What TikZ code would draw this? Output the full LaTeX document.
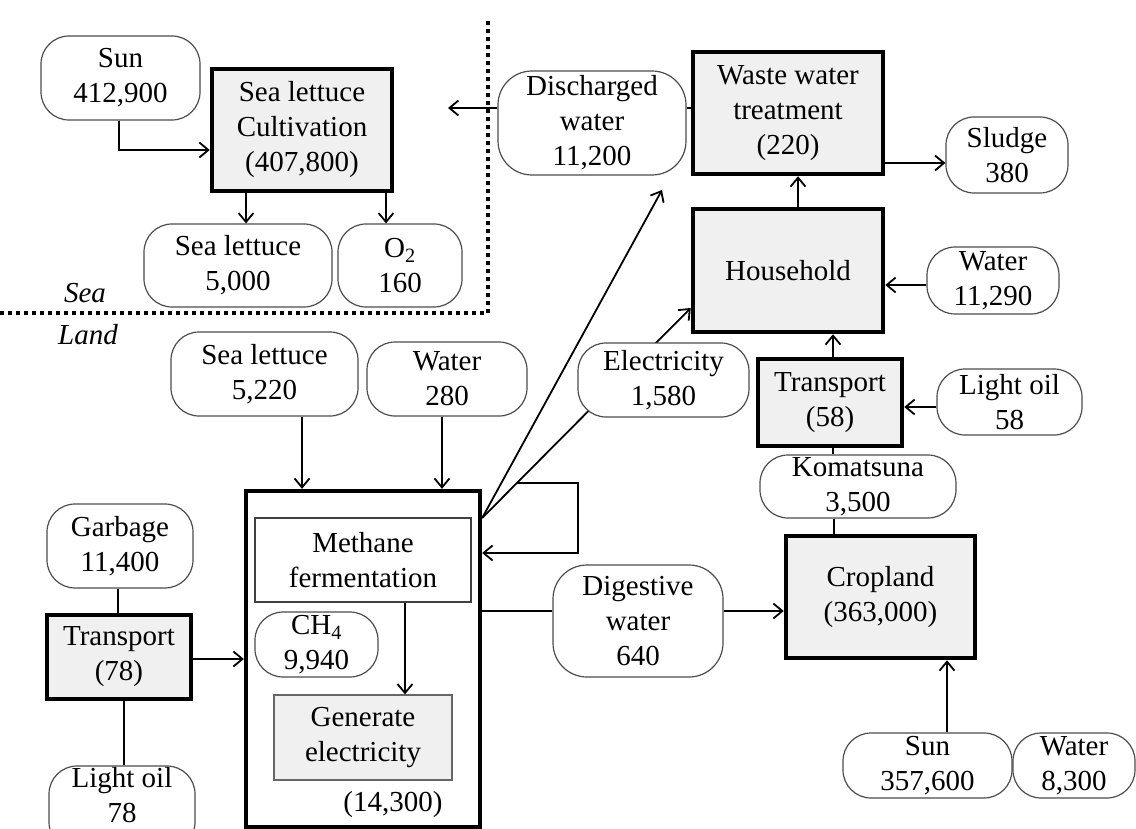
\documentclass[tikz,border=0pt]{standalone}
\usepackage{fontspec}
\setmainfont{Liberation Serif}
\usetikzlibrary{arrows.meta,calc}
\definecolor{procfill}{HTML}{F0F0F0}
\newcommand\diagfont{\fontsize{29}{35}\selectfont}
\tikzset{
  flow/.style={draw=black!70, line width=1.2pt, rounded corners=28pt, fill=white,
               align=center, inner sep=0pt, font=\diagfont},
  proc/.style={draw=black, line width=4.5pt, fill=procfill, align=center,
               inner sep=0pt, font=\diagfont},
  unit/.style={draw=black!75, line width=1.4pt, align=center, inner sep=0pt, font=\diagfont},
  wh/.style 2 args={minimum width=#1pt, minimum height=#2pt},
  conn/.style={line width=1.8pt},
  arr/.style={conn, -{Straight Barb[length=9pt,width=15pt,line width=1.8pt]}},
  zone/.style={line width=3.5pt, dash pattern=on 3.5pt off 4.5pt},
  tag/.style={font=\diagfont\itshape, inner sep=0pt}
}
\begin{document}
\begin{tikzpicture}[x=1pt, y=-1pt]
\useasboundingbox (0,0) rectangle (1136,829);
\clip (0,0) rectangle (1136,829);

% ---- sea / land boundary
\draw[zone] (0,313) -- (488,313) -- (488,17);
\node[tag] (sea) at (85,293) {Sea};
\node[tag] (land) at (88,335) {Land};

% ---- sea side
\node[flow, wh={159}{84}] (sunA) at (120.5,78) {Sun\\412,900};
\node[proc, wh={180}{122}] (cult) at (302,130) {Sea lettuce\\Cultivation\\(407,800)};
\node[flow, wh={188}{83}] (slA) at (238,265.5) {Sea lettuce\\5,000};
\node[flow, wh={124}{83}] (otwo) at (400,265.5) {O\textsubscript{2}\\160};

\draw[arr] (sunA.south -| 119,0) |- (cult.west |- 0,150);
\draw[arr] (cult.south -| 246,0) -- (slA.north -| 246,0);
\draw[arr] (cult.south -| 386,0) -- (otwo.north -| 386,0);

% ---- waste water chain
\node[flow, wh={188}{104}, rounded corners=34pt] (dis) at (592,123) {Discharged\\water\\11,200};
\node[proc, wh={190}{122}] (www) at (788,113) {Waste water\\treatment\\(220)};
\node[flow, wh={122}{76}] (sludge) at (1007,155) {Sludge\\380};
\node[proc, wh={190}{123}] (house) at (788,270.5) {Household};
\node[flow, wh={132}{67}] (waterH) at (993,280.5) {Water\\11,290};
\node[proc, wh={144}{87}] (trB) at (830,402.5) {Transport\\(58)};
\node[flow, wh={145}{66}] (oilB) at (1009.5,402) {Light oil\\58};
\node[flow, wh={196}{63}] (koma) at (858,486.5) {Komatsuna\\3,500};
\node[proc, wh={189}{122}] (crop) at (880.5,597) {Cropland\\(363,000)};
\node[flow, wh={169}{65}] (sunB) at (927.5,765.5) {Sun\\357,600};
\node[flow, wh={122}{65}] (waterC) at (1074,765.5) {Water\\8,300};
\node[flow, wh={170}{112}, rounded corners=34pt] (dig) at (638,621) {Digestive\\water\\640};

\coordinate (seaout) at (448,108);
\draw[arr] (dis.west |- seaout) -- (seaout);
\draw[conn] (dis.east |- 0,108) -- (www.west |- 0,108);
\draw[arr] (www.east |- 0,163) -- (sludge.west |- 0,163);
\draw[arr] (house.north -| 798,0) -- (www.south -| 798,0);
\draw[arr] (waterH.west |- 0,285) -- (house.east |- 0,285);
\draw[arr] (trB.north -| 833,0) -- (house.south -| 833,0);
\draw[arr] (oilB.west |- 0,407) -- (trB.east |- 0,407);
\draw[conn] (trB.south -| 833,0) -- (koma.north -| 833,0);
\draw[conn] (koma.south -| 834,0) -- (crop.north -| 834,0);
\draw[arr] (sunB.north -| 947,0) -- (crop.south -| 947,0);

% ---- land side: biogas plant
\node[flow, wh={187}{84}] (slB) at (264.5,374) {Sea lettuce\\5,220};
\node[flow, wh={160}{74}] (waterB) at (447,379) {Water\\280};
\node[draw=black, line width=4.3pt, wh={234}{336}, inner sep=0pt] (big) at (363,659) {};
\node[unit, wh={216}{84}] (meth) at (363,560) {Methane\\fermentation};
\node[flow, wh={123}{65}] (chf) at (316.5,644.5) {CH\textsubscript{4}\\9,940};
\node[unit, fill=procfill, draw=black!60, line width=1.2pt, wh={178}{85}] (gen) at (363,737.5) {Generate\\electricity};
\node[font=\diagfont, inner sep=0pt] (plantsum) at (393,805) {(14,300)};

\node[flow, wh={146}{84}] (garb) at (120,546) {Garbage\\11,400};
\node[proc, wh={144}{84}] (trA) at (119,657) {Transport\\(78)};
% the box runs past the lower edge; its text sits higher so it stays readable
\node[flow, wh={146}{84}] (oilA) at (122,808)
  {\raisebox{10pt}[\height][\depth]{\begin{tabular}{@{}c@{}}Light oil\\78\end{tabular}}};

\draw[arr] (slB.south -| 302,0) -- (big.north -| 302,0);
\draw[arr] (waterB.south -| 442,0) -- (big.north -| 442,0);
\draw[arr] (meth.south -| 405,0) -- (gen.north -| 405,0);
\draw[conn] (garb.south -| 118,0) -- (trA.north -| 118,0);
\draw[conn] (trA.south -| 124,0) -- (oilA.north -| 124,0);
\draw[arr] (trA.east |- 0,659) -- (big.west |- 0,659);

% outputs of the plant
\coordinate (bigout) at (big.east |- 0,518);
\coordinate (distip) at (662,190);
\coordinate (housein) at (house.west |- 0,308);
\draw[arr] (bigout) -- (distip);
\draw[arr] (bigout) -- (housein);
\draw[arr] ($(bigout)!1/6!(housein)$) -- (578,483) -- (578,553) -- (big.east |- 0,553);
\draw[conn] (big.east |- 0,611) -- (dig.west |- 0,611);
\draw[arr] (dig.east |- 0,611) -- (crop.west |- 0,611);

\node[flow, wh={171}{74}] (elec) at (663.5,380) {Electricity\\1,580};
\end{tikzpicture}
\end{document}
